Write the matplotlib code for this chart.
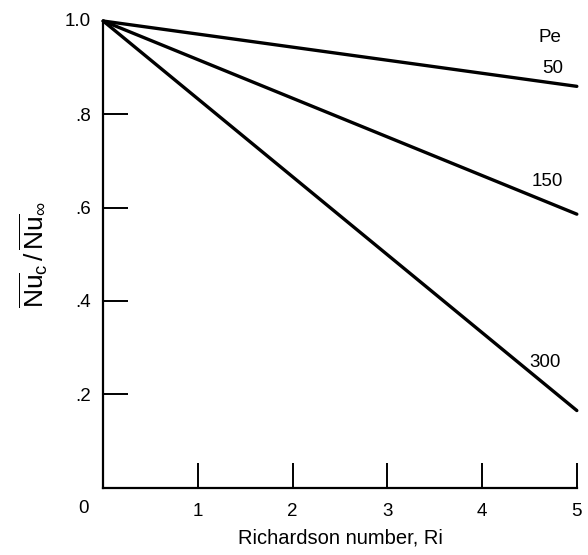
import matplotlib

matplotlib.use("Agg")
import matplotlib.pyplot as plt

plt.rcParams["font.family"] = ["Liberation Sans", "DejaVu Sans"]
plt.rcParams["mathtext.fontset"] = "custom"
plt.rcParams["mathtext.rm"] = "Liberation Sans"
plt.rcParams["mathtext.it"] = "Liberation Sans:italic"

# Richardson number endpoints and Nu ratio per Peclet number
ri = [0.0, 5.0]
pe_labels = ["50", "150", "300"]
nu_ratio = {
    "50": [1.0, 0.86],
    "150": [1.0, 0.586],
    "300": [1.0, 0.165],
}
xticks = [1, 2, 3, 4, 5]
yticks = [0.2, 0.4, 0.6, 0.8]
ytick_labels = [".2", ".4", ".6", ".8"]

FS = 13.5

fig = plt.figure(figsize=(5.88, 5.55), dpi=100)
ax = fig.add_axes([0.1756, 0.1216, 0.8054, 0.8405])

for pe in pe_labels:
    ax.plot(ri, nu_ratio[pe], color="black", lw=2.4, solid_capstyle="round",
            clip_on=False)

ax.set_xlim(0, 5)
ax.set_ylim(0, 1.0)
ax.spines["top"].set_visible(False)
ax.spines["right"].set_visible(False)
for s in ("left", "bottom"):
    ax.spines[s].set_linewidth(1.6)

ax.set_xticks(xticks)
ax.set_xticklabels([str(t) for t in xticks])
ax.set_yticks(yticks)
ax.set_yticklabels(ytick_labels)
ax.tick_params(axis="both", direction="in", length=18, width=1.4,
               labelsize=FS)
ax.tick_params(axis="y", pad=9)
ax.tick_params(axis="x", pad=11)

# origin and top labels without ticks
ax.text(-0.21, -0.046, "0", ha="center", va="center", fontsize=FS,
        clip_on=False)
ax.text(-0.137, 1.0, "1.0", ha="right", va="center", fontsize=FS,
        clip_on=False)

ax.set_xlabel("Richardson number, Ri", fontsize=14.5, labelpad=6)
ax.set_ylabel(r"$\overline{\mathrm{Nu}}_\mathrm{c}\,/\,\overline{\mathrm{Nu}}_\mathrm{\infty}$",
              fontsize=19, labelpad=18)

ax.text(4.72, 0.965, "Pe", ha="center", va="center", fontsize=FS)
ax.text(4.75, 0.899, "50", ha="center", va="center", fontsize=FS)
ax.text(4.69, 0.655, "150", ha="center", va="center", fontsize=FS)
ax.text(4.66, 0.269, "300", ha="center", va="center", fontsize=FS)

fig.savefig("out.png", dpi=100)
